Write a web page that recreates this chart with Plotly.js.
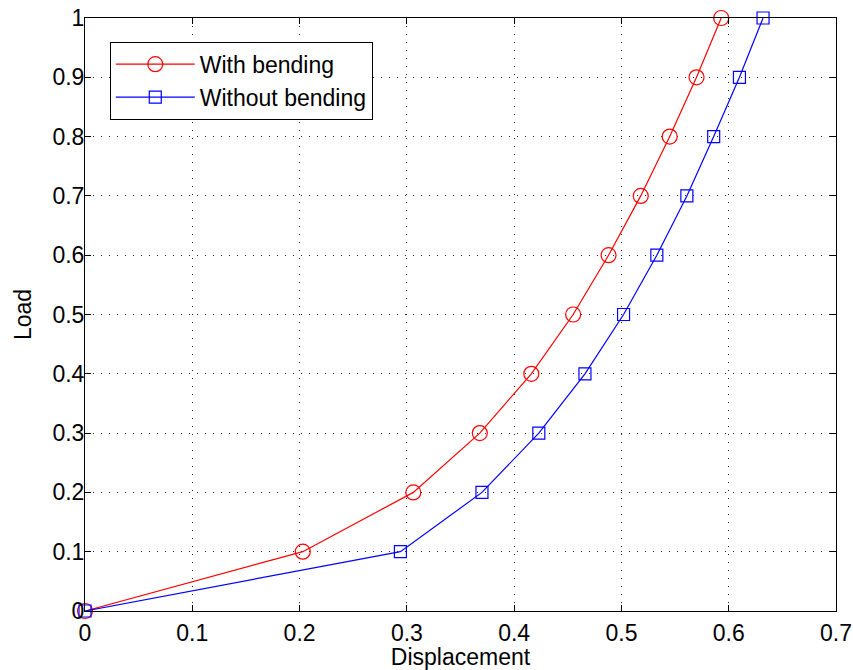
<!DOCTYPE html>
<html>
<head>
<meta charset="utf-8">
<script src="https://cdn.plot.ly/plotly-3.0.1.min.js"></script>
<style>
  html, body { margin: 0; padding: 0; background: #fff; }
  #chart { width: 853px; height: 670px; }
</style>
</head>
<body>
<div id="chart"></div>
<script>
// Load levels (shared by both curves)
const load = [0, 0.1, 0.2, 0.3, 0.4, 0.5, 0.6, 0.7, 0.8, 0.9, 1.0];

// Displacement with bending effects included
const dispWithBending = [0, 0.203, 0.306, 0.368, 0.416, 0.455, 0.488, 0.518, 0.545, 0.570, 0.593];

// Displacement with bending effects neglected
const dispWithoutBending = [0, 0.294, 0.370, 0.423, 0.466, 0.502, 0.533, 0.561, 0.586, 0.610, 0.632];

const xTicks = [0, 0.1, 0.2, 0.3, 0.4, 0.5, 0.6, 0.7];
const yTicks = [0, 0.1, 0.2, 0.3, 0.4, 0.5, 0.6, 0.7, 0.8, 0.9, 1];

const baseFont = { family: 'Liberation Sans, Arial, Helvetica, sans-serif', size: 23, color: '#000' };

const traces = [
  {
    x: dispWithBending, y: load,
    name: 'With bending',
    mode: 'lines+markers',
    cliponaxis: false,
    line: { color: '#ff0000', width: 1.2 },
    marker: { symbol: 'circle-open', size: 15, color: '#ff0000', line: { width: 1.2, color: '#ff0000' } }
  },
  {
    x: dispWithoutBending, y: load,
    name: 'Without bending',
    mode: 'lines+markers',
    cliponaxis: false,
    line: { color: '#0000ff', width: 1.2 },
    marker: { symbol: 'square-open', size: 12, color: '#0000ff', line: { width: 1.2, color: '#0000ff' } }
  }
];

const axisCommon = {
  showline: true, linecolor: '#000', linewidth: 1,
  mirror: 'ticks',
  ticks: 'inside', ticklen: 6, tickcolor: '#000', tickwidth: 1,
  showgrid: true, gridcolor: '#222', gridwidth: 1, griddash: '1px,7px',
  zeroline: false,
  tickfont: baseFont,
  automargin: false,
  fixedrange: true
};

const layout = {
  width: 853, height: 670,
  margin: { l: 85, r: 17, t: 18, b: 59 },
  paper_bgcolor: '#fff', plot_bgcolor: '#fff',
  font: baseFont,
  showlegend: true,
  legend: {
    x: 0.033, y: 0.96, xanchor: 'left', yanchor: 'top',
    bgcolor: '#fff', bordercolor: '#000', borderwidth: 1,
    font: { family: baseFont.family, size: 23, color: '#000' },
    itemwidth: 79,
    tracegroupgap: 0
  },
  xaxis: Object.assign({}, axisCommon, {
    range: [0, 0.7], tickvals: xTicks, ticktext: xTicks.map(String),
    ticklabelstandoff: 1,
    title: { text: 'Displacement', font: baseFont, standoff: 4 }
  }),
  yaxis: Object.assign({}, axisCommon, {
    range: [0, 1], tickvals: yTicks, ticktext: yTicks.map(String),
    ticklabelstandoff: -5,
    title: { text: 'Load', font: baseFont, standoff: 14 }
  })
};

Plotly.newPlot('chart', traces, layout, { displayModeBar: false, staticPlot: true });
</script>
</body>
</html>
